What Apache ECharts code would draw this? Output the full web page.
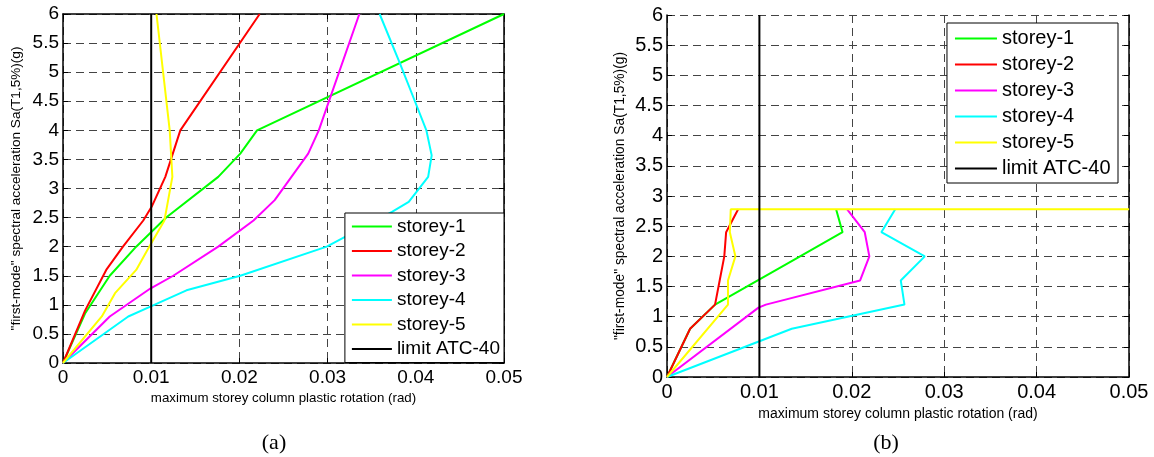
<!DOCTYPE html>
<html>
<head>
<meta charset="utf-8">
<script src="https://cdn.jsdelivr.net/npm/echarts@6/dist/echarts.min.js"></script>
<style>
html,body{margin:0;padding:0;background:#fff;}
#chart{width:1154px;height:457px;}
</style>
</head>
<body>
<div id="chart"></div>
<script>
// ---- data ----
const seriesNames = ['storey-1', 'storey-2', 'storey-3', 'storey-4', 'storey-5', 'limit ATC-40'];
const seriesColors = ['#00ff00', '#ff0000', '#ff00ff', '#00ffff', '#ffff00', '#000000'];
const xTicks = [0, 0.01, 0.02, 0.03, 0.04, 0.05];
const yTicks = [0, 0.5, 1, 1.5, 2, 2.5, 3, 3.5, 4, 4.5, 5, 5.5, 6];
const xTitle = 'maximum storey column plastic rotation (rad)';
const yTitle = '"first-mode" spectral acceleration Sa(T1,5%)(g)';
const captions = ['(a)', '(b)'];

// chart (a)
const a_storey1 = [[0,0],[0.0025,0.85],[0.0053,1.5],[0.0083,2.0],[0.0117,2.5],[0.0176,3.2],[0.0201,3.6],[0.0220,4.0],[0.05,6]];
const a_storey2 = [[0,0],[0.0025,0.9],[0.0049,1.6],[0.0068,2.0],[0.0091,2.45],[0.0101,2.7],[0.0116,3.2],[0.0133,4.0],[0.0223,6]];
const a_storey3 = [[0,0],[0.0053,0.8],[0.0099,1.28],[0.0125,1.5],[0.0176,2.0],[0.0216,2.45],[0.024,2.8],[0.0278,3.6],[0.029,4.0],[0.0336,6]];
const a_storey4 = [[0,0],[0.0074,0.8],[0.0099,0.97],[0.014,1.25],[0.0201,1.5],[0.0299,2.0],[0.0373,2.6],[0.0392,2.77],[0.0414,3.2],[0.0418,3.57],[0.0412,4.0],[0.0399,4.5],[0.0382,5.15],[0.0359,6]];
const a_storey5 = [[0,0],[0.0044,0.8],[0.0059,1.2],[0.0083,1.6],[0.0096,1.95],[0.0115,2.45],[0.0124,3.2],[0.0121,4.0],[0.0106,6]];
const a_limit = [[0.01,0],[0.01,6]];

// chart (b)
const b_storey1 = [[0,0],[0.0025,0.8],[0.0052,1.2],[0.0144,2.0],[0.019,2.4],[0.0183,2.78]];
const b_storey2 = [[0,0],[0.0025,0.8],[0.0052,1.2],[0.0057,1.6],[0.0062,2.0],[0.0064,2.4],[0.0077,2.78]];
const b_storey3 = [[0,0],[0.0099,1.15],[0.0107,1.2],[0.0209,1.6],[0.0219,2.0],[0.0214,2.4],[0.0195,2.78]];
const b_storey4 = [[0,0],[0.0135,0.8],[0.0257,1.2],[0.0253,1.6],[0.0279,2.0],[0.0232,2.4],[0.0247,2.78]];
const b_storey5 = [[0,0],[0.0066,1.2],[0.0066,1.6],[0.0074,2.0],[0.0068,2.4],[0.0069,2.78],[0.05,2.78]];
const b_limit = [[0.01,0],[0.01,6]];

const dataA = [a_storey1, a_storey2, a_storey3, a_storey4, a_storey5, a_limit];
const dataB = [b_storey1, b_storey2, b_storey3, b_storey4, b_storey5, b_limit];

// ---- build option ----
const FONT = 'Arial, "Liberation Sans", sans-serif';
const gridDash = { color: '#444', width: 1, type: [8, 5] };
const fmtX = v => { const i = xTicks.findIndex(t => Math.abs(t - v) < 1e-9); return i >= 0 ? String(xTicks[i]) : ''; };
const fmtY = v => { const i = yTicks.findIndex(t => Math.abs(t - v) < 1e-9); return i >= 0 ? String(yTicks[i]) : ''; };

function mainX(grid, fs, nameGap, nameFs) {
  return {
    type: 'value', gridIndex: grid, min: xTicks[0], max: xTicks[xTicks.length - 1], interval: 0.01,
    position: 'bottom',
    name: xTitle, nameLocation: 'middle', nameGap: nameGap,
    nameTextStyle: { fontFamily: FONT, fontSize: nameFs, color: '#000' },
    axisLine: { show: true, onZero: false, lineStyle: { color: '#000', width: 1.5 } },
    axisTick: { show: true, inside: true, length: 5, lineStyle: { color: '#000' } },
    axisLabel: { fontFamily: FONT, fontSize: fs, color: '#000', margin: 5, formatter: fmtX },
    splitLine: { show: true, lineStyle: gridDash }
  };
}
function topX(grid, showLine) {
  return {
    type: 'value', gridIndex: grid, min: xTicks[0], max: xTicks[xTicks.length - 1], interval: 0.01,
    position: 'top',
    axisLine: { show: showLine, onZero: false, lineStyle: { color: '#000', width: 1.5 } },
    axisTick: { show: showLine, inside: true, length: 5, lineStyle: { color: '#000' } },
    axisLabel: { show: false }, splitLine: { show: false }
  };
}
function mainY(grid, fs, nameGap, nameFs) {
  return {
    type: 'value', gridIndex: grid, min: yTicks[0], max: yTicks[yTicks.length - 1], interval: 0.5,
    position: 'left',
    name: yTitle, nameLocation: 'middle', nameGap: nameGap,
    nameTextStyle: { fontFamily: FONT, fontSize: nameFs, color: '#000' },
    axisLine: { show: true, onZero: false, lineStyle: { color: '#000', width: 1.5 } },
    axisTick: { show: true, inside: true, length: 5, lineStyle: { color: '#000' } },
    axisLabel: { fontFamily: FONT, fontSize: fs, color: '#000', margin: 4, formatter: fmtY },
    splitLine: { show: true, lineStyle: gridDash }
  };
}
function rightY(grid) {
  return {
    type: 'value', gridIndex: grid, min: yTicks[0], max: yTicks[yTicks.length - 1], interval: 0.5,
    position: 'right',
    axisLine: { show: true, onZero: false, lineStyle: { color: '#000', width: 1.5 } },
    axisTick: { show: true, inside: true, length: 5, lineStyle: { color: '#000' } },
    axisLabel: { show: false }, splitLine: { show: false }
  };
}

const series = [];
[dataA, dataB].forEach((set, g) => {
  set.forEach((d, i) => {
    series.push({
      type: 'line', name: seriesNames[i], xAxisIndex: g * 2, yAxisIndex: g * 2,
      data: d, symbol: 'none', animation: false, silent: true,
      color: seriesColors[i],
      itemStyle: { color: seriesColors[i] },
      lineStyle: { color: seriesColors[i], width: 2 }
    });
  });
});

function legend(opts) {
  return Object.assign({
    orient: 'vertical', data: seriesNames, icon: 'rect', selectedMode: false,
    itemHeight: 2, backgroundColor: '#fff', borderColor: '#000', borderWidth: 1, borderRadius: 0
  }, opts);
}

const option = {
  animation: false,
  backgroundColor: '#fff',
  grid: [
    { left: 63, top: 14, width: 441, height: 349 },
    { left: 667, top: 15, width: 462, height: 362 }
  ],
  xAxis: [ mainX(0, 19, 26, 13.3), topX(0, true), mainX(1, 20, 28, 14), topX(1, false) ],
  yAxis: [ mainY(0, 19, 40, 13.6), rightY(0), mainY(1, 20, 40, 13.8), rightY(1) ],
  legend: [
    legend({ right: 650, top: 213, padding: [4, 4, 4, 7], itemWidth: 40, itemGap: 5.5,
      textStyle: { fontFamily: FONT, fontSize: 19, lineHeight: 19, color: '#000' } }),
    legend({ right: 36, top: 23, padding: [5.5, 7.5, 4.5, 8], itemWidth: 42, itemGap: 6,
      textStyle: { fontFamily: FONT, fontSize: 20, lineHeight: 20, color: '#000' } })
  ],
  graphic: [
    { type: 'text', x: 274, y: 443, style: { text: captions[0], font: '22px "Liberation Serif", "Times New Roman", serif', fill: '#000', textAlign: 'center', textVerticalAlign: 'middle' } },
    { type: 'text', x: 886, y: 443, style: { text: captions[1], font: '22px "Liberation Serif", "Times New Roman", serif', fill: '#000', textAlign: 'center', textVerticalAlign: 'middle' } }
  ],
  series: series
};

const chart = echarts.init(document.getElementById('chart'), null, { renderer: 'canvas' });
chart.setOption(option);
</script>
</body>
</html>
